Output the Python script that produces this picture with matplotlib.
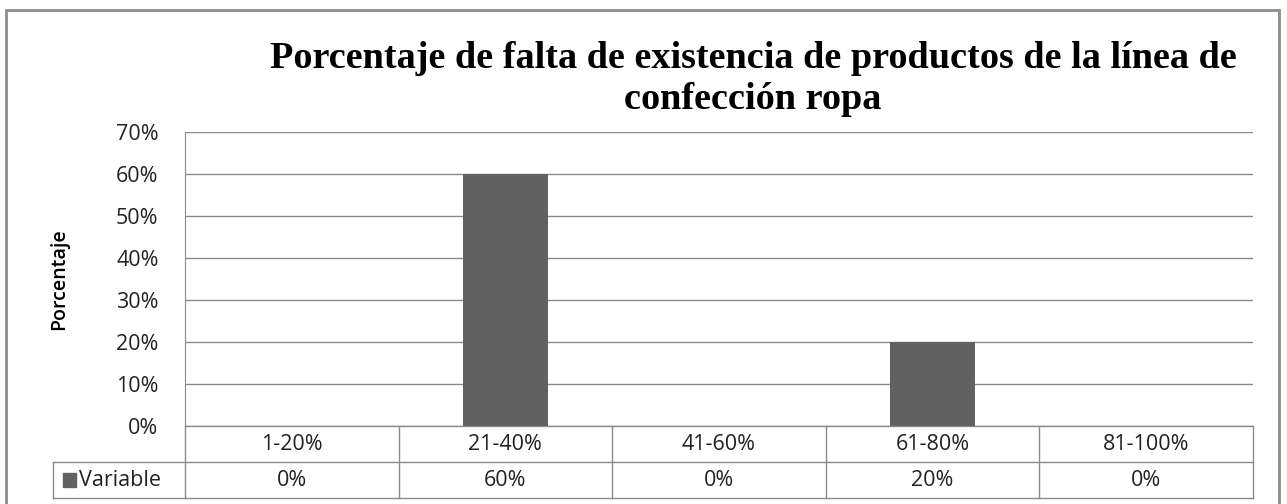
import matplotlib
matplotlib.use("Agg")
import matplotlib.pyplot as plt
from matplotlib.patches import Rectangle

categories = ["1-20%", "21-40%", "41-60%", "61-80%", "81-100%"]
values = [0, 60, 0, 20, 0]
series_name = "Variable"
yticks = [0, 10, 20, 30, 40, 50, 60, 70]
title = "Porcentaje de falta de existencia de productos de la línea de\nconfección ropa"

BAR = "#616161"
GRID = "#8a8a8a"
TXT = "#222222"
SANS = ["Open Sans", "DejaVu Sans"]
FS = 15.5

W, H = 1287, 504
fig = plt.figure(figsize=(W / 100, H / 100), dpi=100)
fig.patch.set_facecolor("white")

# plot area in pixels
L, R, T, B = 185, 1253, 132, 426
ax = fig.add_axes([L / W, 1 - B / H, (R - L) / W, (B - T) / H])

x = range(len(categories))
ax.bar(x, values, width=0.4, color=BAR, linewidth=0, zorder=3)
ax.set_xlim(-0.5, len(categories) - 0.5)
ax.set_ylim(0, 70)
ax.set_yticks(yticks)
ax.set_yticklabels([f"{v}%" for v in yticks], fontsize=FS, family=SANS, color=TXT)
ax.set_xticks([])
ax.tick_params(axis="y", length=0, pad=19)
ax.yaxis.grid(True, color=GRID, linewidth=1)
ax.set_axisbelow(True)
for s in ["top", "right", "bottom"]:
    ax.spines[s].set_visible(False)
ax.spines["left"].set_color(GRID)
ax.set_ylabel("Porcentaje", fontsize=14, family=SANS, fontweight="semibold",
              labelpad=34)

# data table under the plot
tr = ax.get_xaxis_transform()
rh = 36 / (B - T)
n = len(categories)
leg_left = -0.5 - (L - 53) / ((R - L) / n)
kw = dict(color=GRID, linewidth=1, transform=tr, clip_on=False)
ax.plot([-0.5, n - 0.5], [0, 0], **kw)
ax.plot([leg_left, n - 0.5], [-rh, -rh], **kw)
ax.plot([leg_left, n - 0.5], [-2 * rh, -2 * rh], **kw)
ax.plot([leg_left, leg_left], [-rh, -2 * rh], **kw)
for i in range(n + 1):
    ax.plot([i - 0.5, i - 0.5], [0, -2 * rh], **kw)
for i, (c, v) in enumerate(zip(categories, values)):
    ax.text(i, -rh / 2, c, transform=tr, ha="center", va="center",
            fontsize=FS, family=SANS, color=TXT)
    ax.text(i, -1.5 * rh, f"{v}%", transform=tr, ha="center", va="center",
            fontsize=FS, family=SANS, color=TXT)
px = n / (R - L)
ax.add_patch(Rectangle((leg_left + 10 * px, -1.5 * rh - 0.024), 13 * px, 0.048,
                       transform=tr, color=BAR, clip_on=False))
ax.text(leg_left + 26 * px, -1.5 * rh, series_name, transform=tr, ha="left",
        va="center", fontsize=FS, family=SANS, color=TXT)

fig.text(753 / W, 1 - 79 / H, title, ha="center", va="center", fontsize=27.5,
         fontweight="bold", family="Liberation Serif", linespacing=1.2)

# outer chart border
fig.add_artist(Rectangle((5.5 / W, -0.05), (1279 - 5.5) / W, 1.05 - 9.5 / H,
                         transform=fig.transFigure, fill=False,
                         edgecolor="#8c8c8c", linewidth=2))

fig.savefig("out.png", dpi=100)
